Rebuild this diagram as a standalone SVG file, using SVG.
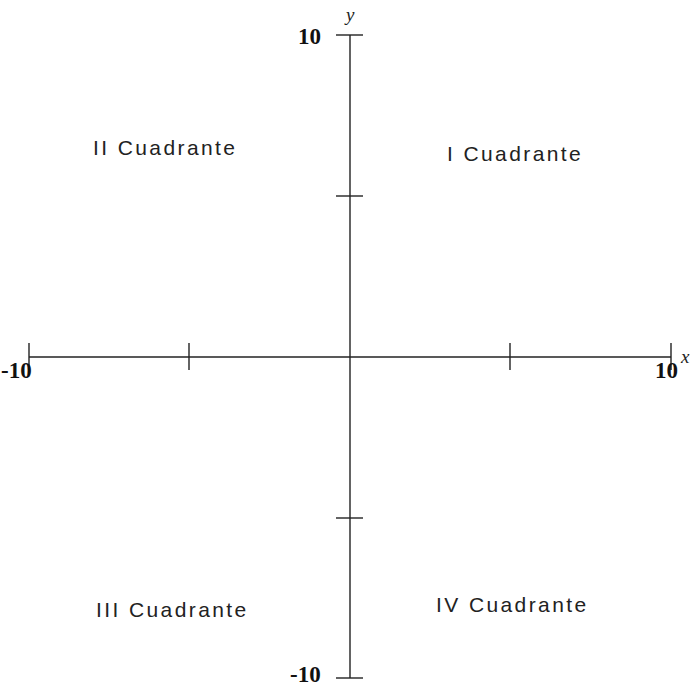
<svg xmlns="http://www.w3.org/2000/svg" width="693" height="687" viewBox="0 0 693 687">
<style>
.ax{stroke:#222;stroke-width:1.4;fill:none}
.num{font-family:"Liberation Serif",serif;font-weight:bold;font-size:23px;fill:#111}
.var{font-family:"Liberation Serif",serif;font-style:italic;font-size:19px;fill:#222}
.q{font-family:"Liberation Sans",Arial,sans-serif;font-size:21px;letter-spacing:2.4px;fill:#222}
</style>
<rect width="693" height="687" fill="#fff"/>
<g id="axes" class="ax">
<line x1="29" y1="357" x2="671" y2="357"/>
<line x1="350" y1="35" x2="350" y2="678"/>
<line x1="29" y1="343" x2="29" y2="370"/>
<line x1="189" y1="343" x2="189" y2="370"/>
<line x1="510" y1="343" x2="510" y2="370"/>
<line x1="671" y1="343" x2="671" y2="370"/>
<line x1="336" y1="35" x2="363" y2="35"/>
<line x1="336" y1="196" x2="363" y2="196"/>
<line x1="336" y1="518" x2="363" y2="518"/>
<line x1="336" y1="678" x2="363" y2="678"/>
</g>
<g id="labels">
<text class="num" x="298" y="44">10</text>
<text class="num" x="290" y="682">-10</text>
<text class="num" x="1" y="378">-10</text>
<text class="num" x="655" y="378">10</text>
<text class="var" x="346" y="21">y</text>
<text class="var" x="681" y="363">x</text>
</g>
<g id="q1"><text class="q" x="447" y="161">I Cuadrante</text></g>
<g id="q2"><text class="q" x="93" y="155">II Cuadrante</text></g>
<g id="q3"><text class="q" x="96" y="617">III Cuadrante</text></g>
<g id="q4"><text class="q" x="436" y="612">IV Cuadrante</text></g>
</svg>
